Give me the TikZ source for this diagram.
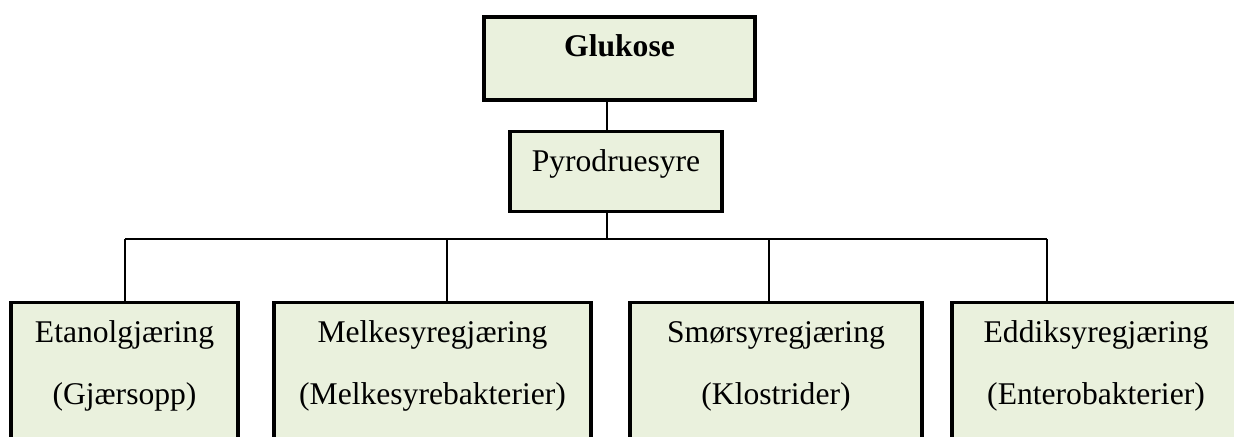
\documentclass[tikz,border=0pt]{standalone}
\usepackage{fontspec}
\setmainfont{Liberation Serif}
\usepackage{xcolor}
\usepackage{tikz}
\definecolor{lysgronn}{RGB}{234,241,221}

\begin{document}
\begin{tikzpicture}[x=0.5pt,y=-0.5pt,
    boks/.style={rectangle,draw,fill=lysgronn,line width=1.75pt,anchor=north,inner ysep=0pt,
      text height=20pt,align=center,font=\fontsize{15.8}{31}\selectfont},
    gjaering/.style={boks,text height=51pt,text depth=33.5pt},
    linje/.style={line width=0.75pt}]
    %
    \clip (0,0) rectangle (1234,437);
    \fill[white] (0,0) rectangle (1234,437);
    %
    \node[boks,line width=2pt,minimum width=135.5pt,text depth=21.5pt,font=\fontsize{15.8}{31}\selectfont\bfseries] (glukose) at (619.5,15) {Glukose};
    \node[boks,minimum width=106pt,text depth=20pt] (pyro) at (616,130) {Pyrodruesyre};
    %
    \node[gjaering,minimum width=113.5pt] (etanol) at (124.5,301) {Etanolgjæring\\(Gjærsopp)};
    \node[gjaering,minimum width=158.5pt] (melk) at (432.5,301) {Melkesyregjæring\\(Melkesyrebakterier)};
    \node[gjaering,minimum width=146pt] (smor) at (776,301) {Smørsyregjæring\\(Klostrider)};
    \node[gjaering,minimum width=144pt] (eddik) at (1096,301) {Eddiksyregjæring\\(Enterobakterier)};
    %
    \coordinate (midt) at (607,239);
    \coordinate (grenA) at (125,239);
    \coordinate (grenB) at (447,239);
    \coordinate (grenC) at (769,239);
    \coordinate (grenD) at (1047,239);
    %
    \draw[linje] (midt |- glukose.south) -- (midt |- pyro.north);
    \draw[linje] (midt |- pyro.south) -- (midt);
    \draw[linje] (grenA) -- (grenD);
    \draw[linje] (grenA) -- (grenA |- etanol.north);
    \draw[linje] (grenB) -- (grenB |- melk.north);
    \draw[linje] (grenC) -- (grenC |- smor.north);
    \draw[linje] (grenD) -- (grenD |- eddik.north);
    %
\end{tikzpicture}
\end{document}
